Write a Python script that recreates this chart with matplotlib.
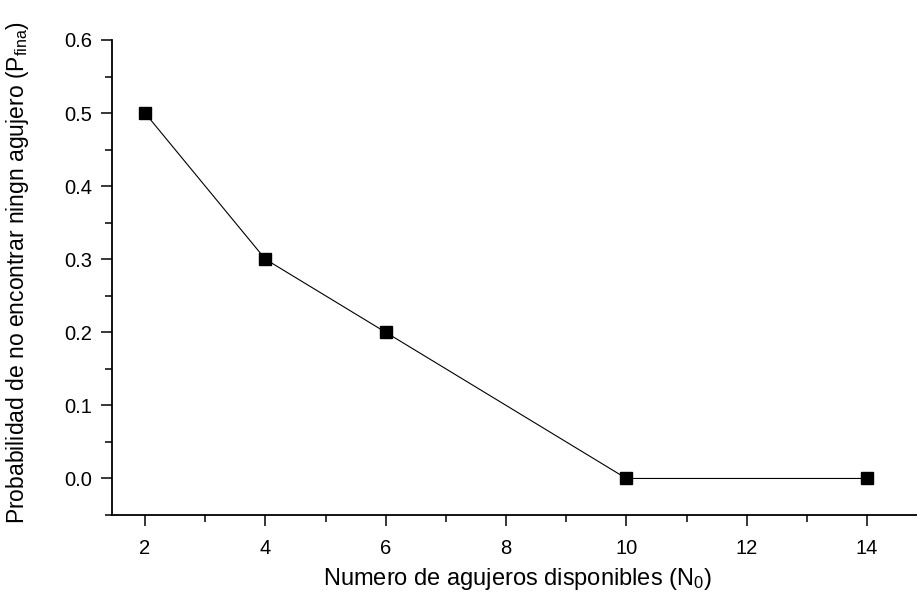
import matplotlib.pyplot as plt
from matplotlib.ticker import MultipleLocator

plt.rcParams['font.family'] = ['Liberation Sans', 'DejaVu Sans']
plt.rcParams['mathtext.fontset'] = 'custom'
plt.rcParams['mathtext.rm'] = 'Liberation Sans'
plt.rcParams['mathtext.it'] = 'Liberation Sans'

# data
n_agujeros = [2, 4, 6, 10, 14]
p_final = [0.5, 0.3, 0.2, 0.0, 0.0]

fig = plt.figure(figsize=(9.17, 5.96), dpi=100)
ax = fig.add_axes([0.1221, 0.1359, 0.8779, 0.797])

ax.plot(n_agujeros, p_final, color='black', linewidth=0.8,
        marker='s', markersize=9, markerfacecolor='black', markeredgecolor='black')

ax.set_xlim(1.45, 14.83)
ax.set_ylim(-0.05, 0.6)
ax.xaxis.set_major_locator(MultipleLocator(2))
ax.xaxis.set_minor_locator(MultipleLocator(1))
ax.yaxis.set_major_locator(MultipleLocator(0.1))
ax.yaxis.set_minor_locator(MultipleLocator(0.05))
ax.yaxis.set_major_formatter(plt.FormatStrFormatter('%.1f'))

ax.spines['top'].set_visible(False)
ax.spines['right'].set_visible(False)
ax.spines['left'].set_linewidth(1.3)
ax.spines['bottom'].set_linewidth(1.3)

ax.tick_params(which='major', direction='out', length=8, width=1.1, labelsize=14.5, pad=6.5)
ax.tick_params(which='minor', direction='out', length=5, width=1.1)
ax.tick_params(axis='x', which='major', pad=9)

ax.set_xlabel(r'Numero de agujeros disponibles (N$_\mathregular{0}$)', fontsize=17, va='center')
ax.xaxis.set_label_coords(0.504, -0.135)
ax.set_ylabel(r'Probabilidad de no encontrar ningn agujero (P$_\mathregular{fina}$)', fontsize=16.5, va='center')
ax.yaxis.set_label_coords(-0.117, 0.51)

fig.savefig('out.png', dpi=100)
